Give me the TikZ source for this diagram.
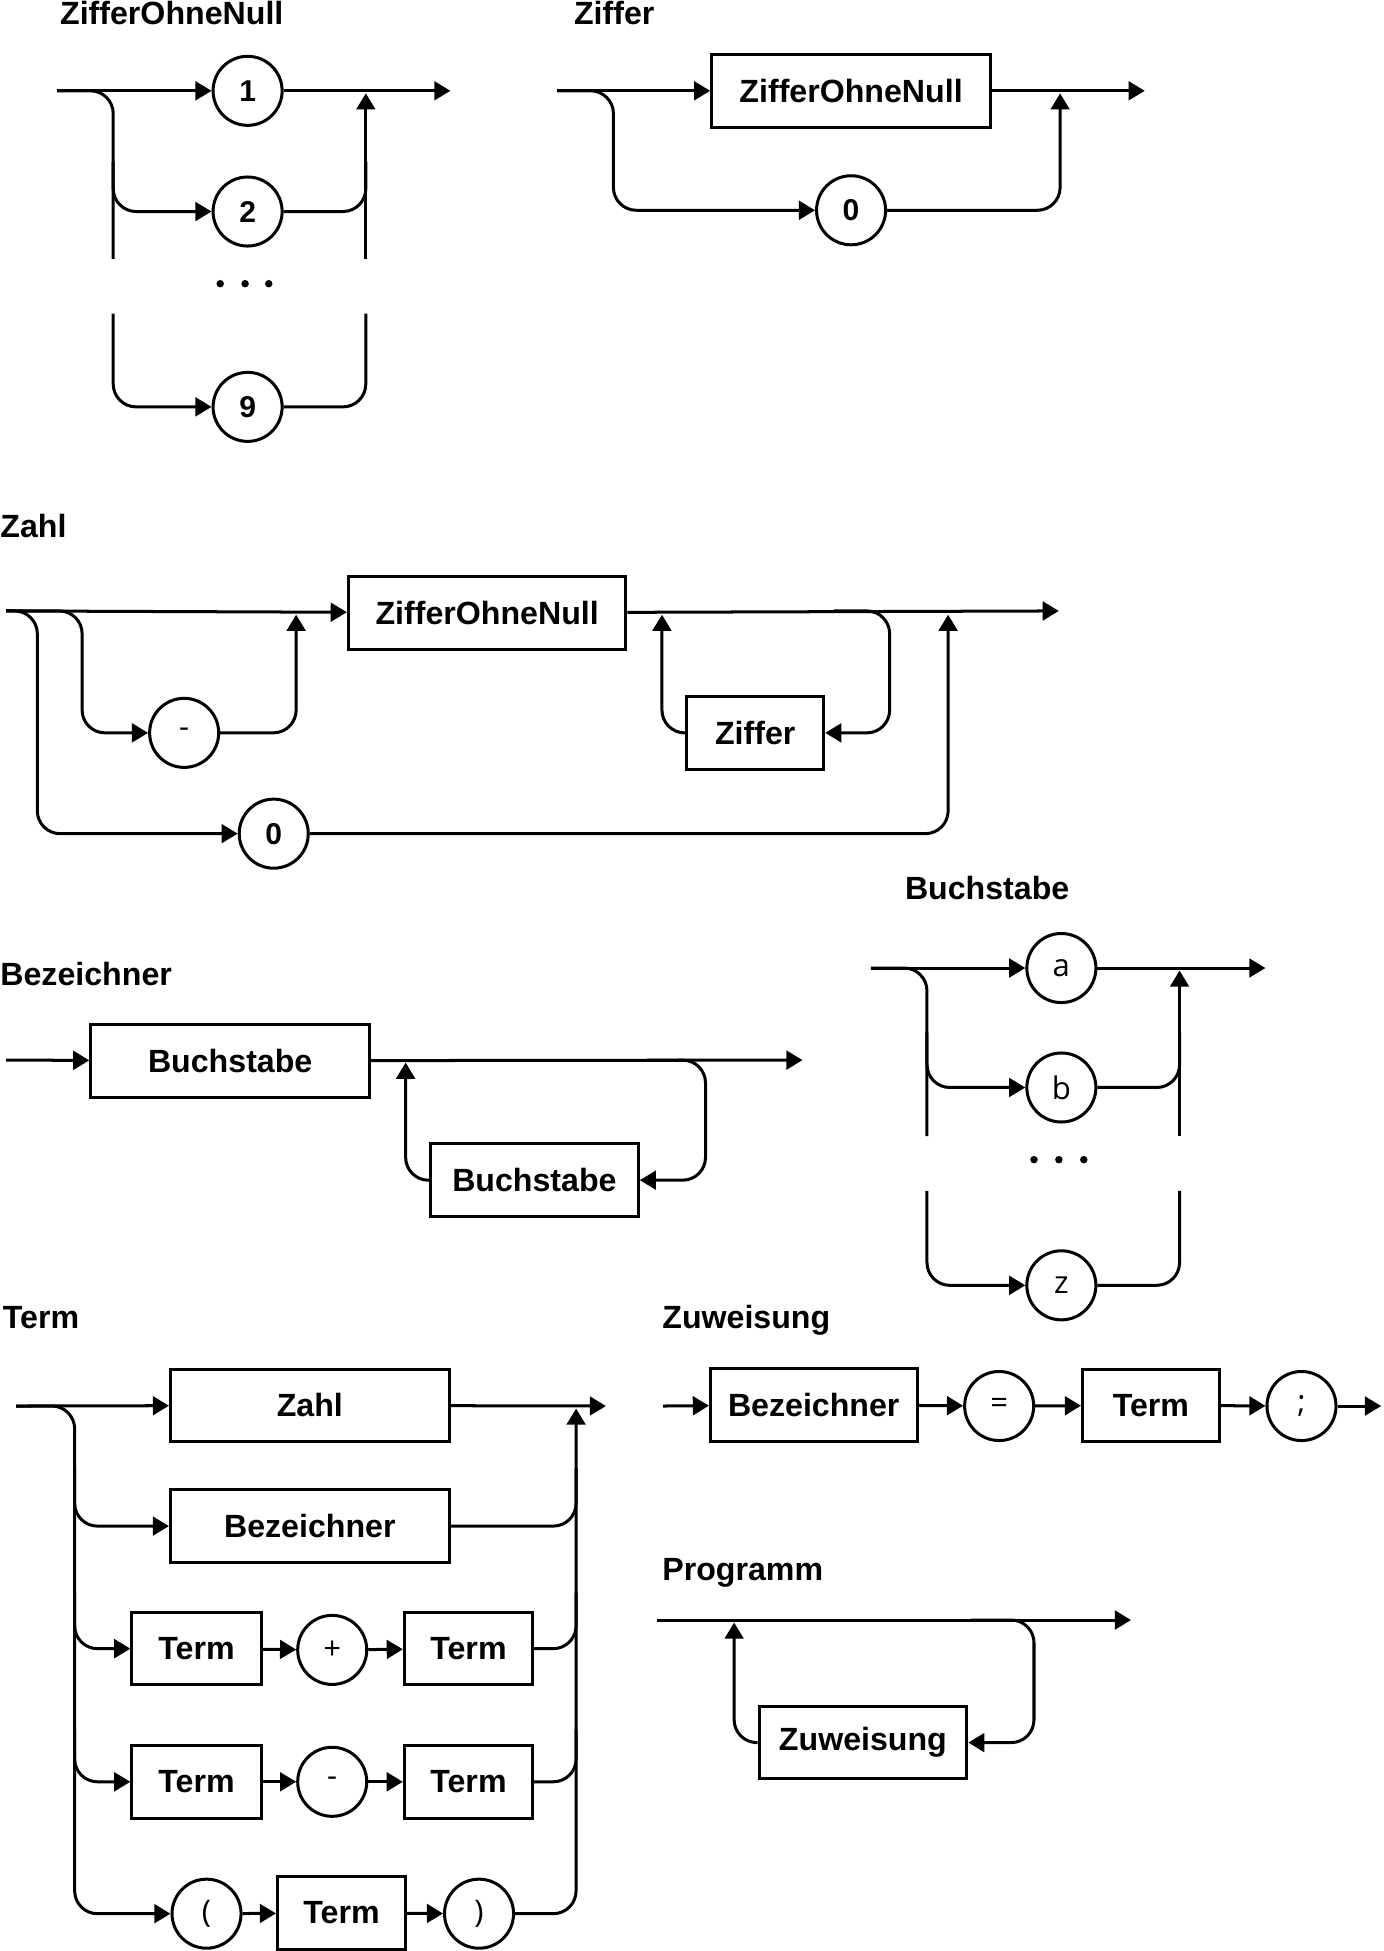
\documentclass[tikz,border=0pt]{standalone}
\usepackage{fontspec}
\setmainfont{Liberation Sans}
\newfontfamily\osans{Open Sans}
\usetikzlibrary{arrows.meta}
\tikzset{
  rail/.style={line width=1.45pt, rounded corners=11pt},
  arr/.style={rail, -{Triangle[length=7.8pt,width=9pt]}},
  box/.style={draw, line width=1.45pt, rectangle, minimum height=35pt, inner sep=0pt,
    font=\fontsize{15.5}{18}\selectfont\bfseries, minimum width=#1*0.6pt},
  tcirc/.style={draw, circle, line width=1.45pt, minimum size=33.3pt, inner sep=0pt,
    font=\fontsize{14.5}{17}\selectfont\bfseries},
  scirc/.style={draw, circle, line width=1.45pt, minimum size=33.3pt, inner sep=0pt,
    font=\fontsize{15}{17}\selectfont\osans},
  title/.style={anchor=base west, inner sep=0pt, font=\fontsize{15.5}{18}\selectfont\bfseries},
  dot/.style={fill, circle, inner sep=0pt, minimum size=3.6pt}
}
\begin{document}
\begin{tikzpicture}[x=0.6pt,y=-0.6pt]
\useasboundingbox[fill=white] (0,0) rectangle (1112,1568);

% ---------------- ZifferOhneNull
\node[title] (tA) at (48,20) {ZifferOhneNull};
\coordinate (ain) at (46,73);
\coordinate (aout) at (362,73);
\node[tcirc] (a1) at (199,73) {1};
\node[tcirc] (a2) at (199,170) {2};
\node[tcirc] (a9) at (199,327) {9};
\coordinate (aLb) at (91,208);
\coordinate (aL1) at (91,130);
\coordinate (aL2) at (91,252);
\coordinate (aRt) at (294,75);
\coordinate (aRb) at (294,208);
\coordinate (aR1) at (294,130);
\coordinate (aR2) at (294,252);
\draw[arr] (ain) -- (a1);
\draw[arr] (a1) -- (aout);
\draw[rail] (ain) -| (aLb);
\draw[arr] (aL1) |- (a2);
\draw[rail] (a2) -| (aR1);
\draw[arr] (aRb) -- (aRt);
\draw[arr] (aL2) |- (a9);
\draw[rail] (a9) -| (aR2);
\node[dot] (ad1) at (177,228) {};
\node[dot] (ad2) at (197,228) {};
\node[dot] (ad3) at (216,228) {};

% ---------------- Ziffer
\node[title] (tB) at (461,20) {Ziffer};
\coordinate (bin) at (448,73);
\coordinate (bout) at (920,73);
\node[box=224] (bz) at (684,73) {ZifferOhneNull};
\node[tcirc] (b0) at (684,169) {0};
\coordinate (bL) at (493,120);
\coordinate (bR) at (852,75);
\draw[arr] (bin) -- (bz);
\draw[arr] (bz) -- (bout);
\draw[arr] (bin) -| (bL) |- (b0);
\draw[arr] (b0) -| (bR);

% ---------------- Zahl
\node[title] (tC) at (0,432) {Zahl};
\coordinate (cin) at (5,491);
\coordinate (cout) at (851,491);
\node[box=223] (cz) at (391.5,492.5) {ZifferOhneNull};
\node[scirc] (cm) at (148,589) {-};
\node[box=110] (cf) at (607,589) {Ziffer};
\node[tcirc] (c0) at (220,670) {0};
\coordinate (cL1) at (30,600);
\coordinate (cL2) at (66,540);
\coordinate (cR1) at (238,494);
\coordinate (cLs) at (670,491);
\coordinate (cLp) at (715,540);
\coordinate (cLe) at (532,494);
\coordinate (cR2) at (762,494);
\draw[arr] (cin) -- (cz);
\draw[arr] (cz) -- (cout);
\draw[arr] (cin) -| (cL1) |- (c0);
\draw[arr] (cin) -| (cL2) |- (cm);
\draw[arr] (cm) -| (cR1);
\draw[arr] (cLs) -| (cLp) |- (cf);
\draw[arr] (cf) -| (cLe);
\draw[arr] (c0) -| (cR2);

% ---------------- Bezeichner
\node[title] (tD) at (0,792) {Bezeichner};
\coordinate (din) at (5,852);
\coordinate (dout) at (645,852);
\node[box=224] (d1) at (185,852.5) {Buchstabe};
\node[box=167] (d2) at (429.5,948.5) {Buchstabe};
\coordinate (dLs) at (520,852);
\coordinate (dLp) at (567,900);
\coordinate (dLe) at (326,854);
\draw[arr] (din) -- (d1);
\draw[arr] (d1) -- (dout);
\draw[arr] (dLs) -| (dLp) |- (d2);
\draw[arr] (d2) -| (dLe);

% ---------------- Buchstabe
\node[title] (tE) at (727,723) {Buchstabe};
\coordinate (ein) at (700,778);
\coordinate (eout) at (1017,778);
\node[scirc] (ea) at (853,778) {a};
\node[scirc] (eb) at (853,874) {b};
\node[scirc] (ez) at (853,1033) {z};
\coordinate (eLb) at (745,913);
\coordinate (eL1) at (745,830);
\coordinate (eL2) at (745,957);
\coordinate (eRt) at (948,780);
\coordinate (eRb) at (948,913);
\coordinate (eR1) at (948,830);
\coordinate (eR2) at (948,957);
\draw[arr] (ein) -- (ea);
\draw[arr] (ea) -- (eout);
\draw[rail] (ein) -| (eLb);
\draw[arr] (eL1) |- (eb);
\draw[rail] (eb) -| (eR1);
\draw[arr] (eRb) -- (eRt);
\draw[arr] (eL2) |- (ez);
\draw[rail] (ez) -| (eR2);
\node[dot] (ed1) at (831,932) {};
\node[dot] (ed2) at (851,932) {};
\node[dot] (ed3) at (871,932) {};

% ---------------- Term
\node[title] (tF) at (2,1068) {Term};
\coordinate (fin) at (13,1130);
\coordinate (fout) at (487,1130);
\node[box=224] (fz) at (249,1129.5) {Zahl};
\node[box=224] (fb) at (249,1226.5) {Bezeichner};
\node[box=104] (f1) at (158,1325) {Term};
\node[scirc] (fp) at (267,1326) {+};
\node[box=103] (f2) at (376.5,1325) {Term};
\node[box=104] (f3) at (158,1432) {Term};
\node[scirc] (fm) at (267,1432) {-};
\node[box=103] (f4) at (376.5,1432) {Term};
\node[scirc] (fl) at (166,1538) {(};
\node[box=103] (f5) at (274.5,1537.5) {Term};
\node[scirc] (fr) at (385,1538) {)};
\coordinate (fLm) at (60,1450);
\coordinate (fL1) at (60,1180);
\coordinate (fL2) at (60,1280);
\coordinate (fL3) at (60,1390);
\coordinate (fRt) at (463,1132);
\coordinate (fR1) at (463,1180);
\coordinate (fR2) at (463,1280);
\coordinate (fR3) at (463,1390);
\draw[arr] (fin) -- (fz);
\draw[arr] (fz) -- (fout);
\draw[arr] (fin) -| (fLm) |- (fl);
\draw[arr] (fL1) |- (fb);
\draw[arr] (fL2) |- (f1);
\draw[arr] (fL3) |- (f3);
\draw[arr] (f1) -- (fp);
\draw[arr] (fp) -- (f2);
\draw[arr] (f3) -- (fm);
\draw[arr] (fm) -- (f4);
\draw[arr] (fl) -- (f5);
\draw[arr] (f5) -- (fr);
\draw[arr] (fr) -| (fRt);
\draw[rail] (fb) -| (fR1);
\draw[rail] (f2) -| (fR2);
\draw[rail] (f4) -| (fR3);

% ---------------- Zuweisung
\node[title] (tG) at (532,1068) {Zuweisung};
\coordinate (gin) at (533,1130);
\coordinate (gout) at (1110,1130);
\node[box=166] (gb) at (654,1129) {Bezeichner};
\node[scirc] (ge) at (803,1130) {=};
\node[box=110] (gt) at (925,1129.5) {Term};
\node[scirc] (gs) at (1046,1130) {;};
\draw[arr] (gin) -- (gb);
\draw[arr] (gb) -- (ge);
\draw[arr] (ge) -- (gt);
\draw[arr] (gt) -- (gs);
\draw[arr] (gs) -- (gout);

% ---------------- Programm
\node[title] (tH) at (532,1270) {Programm};
\coordinate (hin) at (528,1302);
\coordinate (hout) at (909,1302);
\node[box=167] (hz) at (693.5,1400.5) {Zuweisung};
\coordinate (hLs) at (780,1302);
\coordinate (hLp) at (831,1350);
\coordinate (hLe) at (590,1304);
\draw[arr] (hin) -- (hout);
\draw[arr] (hLs) -| (hLp) |- (hz);
\draw[arr] (hz) -| (hLe);
\end{tikzpicture}
\end{document}
